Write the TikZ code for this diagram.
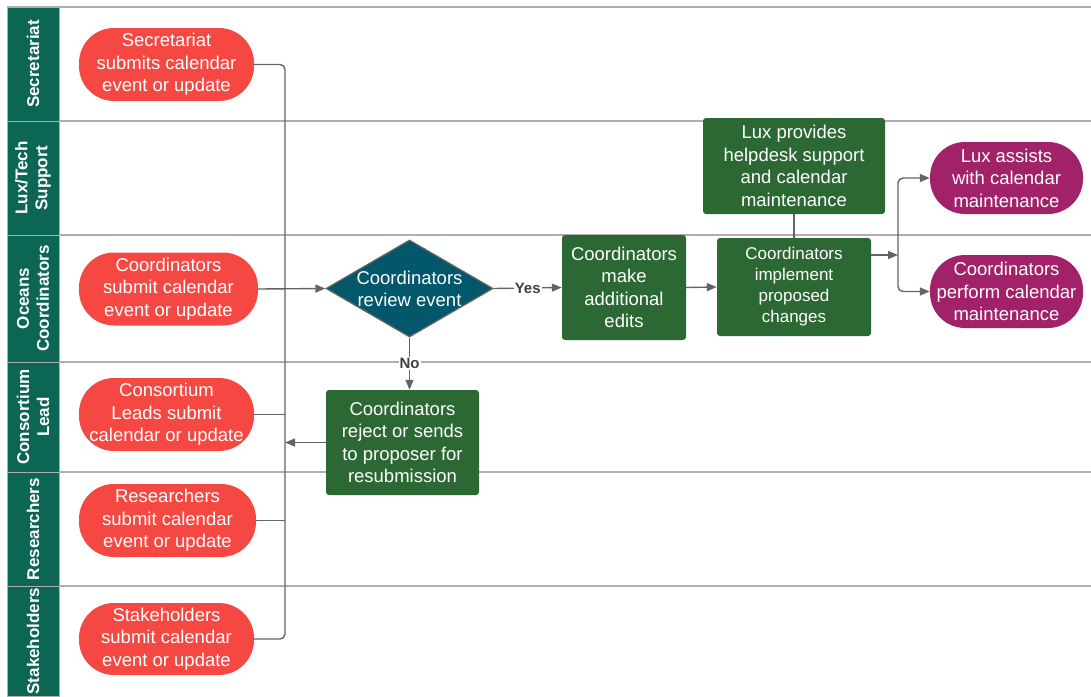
\documentclass[tikz,border=0pt]{standalone}
\usepackage{fontspec}
\setmainfont{Liberation Sans}
\usetikzlibrary{arrows.meta,shapes.geometric,calc}
\definecolor{hdrgreen}{RGB}{11,102,84}
\definecolor{lanegrey}{RGB}{175,175,175}
\definecolor{pillred}{RGB}{246,72,66}
\definecolor{maroon}{RGB}{162,34,106}
\definecolor{boxgreen}{RGB}{44,104,52}
\definecolor{diateal}{RGB}{3,87,107}
\definecolor{conngrey}{RGB}{100,100,100}
\begin{document}
\begin{tikzpicture}[x=1pt,y=-1pt,
  lane/.style={draw=lanegrey, line width=1.2pt},
  hdr/.style={fill=hdrgreen, draw=lanegrey, line width=1pt},
  hdrtxt/.style={text=white, font=\bfseries\fontsize{17}{20}\selectfont, rotate=90, align=center},
  pill/.style={rectangle, rounded corners=35pt, fill=pillred, text=white, align=center, inner sep=0pt, font=\fontsize{18.5}{22.5}\selectfont},
  mpill/.style={pill, fill=maroon},
  gbox/.style={rectangle, rounded corners=3pt, fill=boxgreen, text=white, align=center, inner sep=0pt, font=\fontsize{18.5}{22.5}\selectfont},
  txt/.style={text=white, align=center, inner sep=0pt, font=\fontsize{18.5}{22}\selectfont},
  conn/.style={draw=conngrey, line width=1.4pt},
  arr/.style={conn, -{Triangle[length=10pt,width=8pt]}},
  lbl/.style={fill=white, inner sep=1pt, text=black!75, font=\bfseries\fontsize{15}{16}\selectfont}
]
\useasboundingbox (0,0) rectangle (1091,696);
% lanes
\foreach \y in {7,121,235,362,472,586} \draw[lane] (7,\y) -- (1091,\y);
\draw[hdr] (7,7) rectangle (59,121);
\draw[hdr] (7,121) rectangle (59,235);
\draw[hdr] (7,235) rectangle (59,362);
\draw[hdr] (7,362) rectangle (59,472);
\draw[hdr] (7,472) rectangle (59,586);
\draw[hdr] (7,586) rectangle (59,696);
\node[hdrtxt] (h1) at (33,64) {Secretariat};
\node[hdrtxt] (h2) at (33,178) {Lux/Tech\\Support};
\node[hdrtxt] (h3) at (33,298.5) {Oceans\\Coordinators};
\node[hdrtxt] (h4) at (33,417) {Consortium\\Lead};
\node[hdrtxt] (h5) at (33,529) {Researchers};
\node[hdrtxt] (h6) at (33,641) {Stakeholders};
% nodes
\node[pill, minimum width=175pt, minimum height=73pt] (sec) at (166.5,64.5) {Secretariat\\submits calendar\\event or update};
\node[pill, minimum width=179pt, minimum height=73pt] (csub) at (168.5,289) {Coordinators\\submit calendar\\event or update};
\node[pill, minimum width=175pt, minimum height=73pt] (cons) at (166.5,414.5) {Consortium\\Leads submit\\calendar or update};
\node[pill, minimum width=177pt, minimum height=73pt] (res) at (167.5,520.5) {Researchers\\submit calendar\\event or update};
\node[pill, minimum width=175pt, minimum height=72pt] (stake) at (166.5,639) {Stakeholders\\submit calendar\\event or update};
\node[diamond, fill=diateal, draw=conngrey, line width=1.3pt, minimum width=167pt, minimum height=97pt, inner sep=0pt] (rev) at (409.5,288.5) {};
\node[txt] (revt) at (rev.center) {Coordinators\\review event};
\node[gbox, minimum width=124pt, minimum height=105pt] (edits) at (624,287.5) {Coordinators\\make\\additional\\edits};
\node[gbox, minimum width=153pt, minimum height=105pt] (rej) at (402.5,442.5) {Coordinators\\reject or sends\\to proposer for\\resubmission};
\node[gbox, minimum width=154pt, minimum height=98pt, font=\fontsize{17}{21}\selectfont] (impl) at (794,287) {Coordinators\\implement\\proposed\\changes};
\node[gbox, minimum width=182pt, minimum height=96pt] (luxp) at (794,166) {Lux provides\\helpdesk support\\and calendar\\maintenance};
\node[mpill, minimum width=153pt, minimum height=72pt] (luxa) at (1006.5,178) {Lux assists\\with calendar\\maintenance};
\node[mpill, minimum width=153pt, minimum height=73pt] (perf) at (1006.5,291.5) {Coordinators\\perform calendar\\maintenance};
% connectors
\coordinate (trunk) at (285,0);
\draw[conn, rounded corners=5pt] (sec.east) -- (sec.east -| trunk) -- (stake.east -| trunk) -- (stake.east);
\draw[arr] (csub.east) -- (rev.west);
\draw[conn] (cons.east) -- (cons.east -| trunk);
\draw[conn] (res.east) -- (res.east -| trunk);
\draw[arr] (rej.west) -- (rej.west -| trunk);
\draw[arr] (rev.east) -- node[lbl] (yes) {Yes} (edits.west);
\draw[arr] (rev.south) -- node[lbl] (no) {No} (rev.south |- rej.north);
\draw[arr] (edits.east) -- (impl.west);
\draw[conn] (luxp.south) -- (impl.north);
\coordinate (split) at (898,255);
\draw[arr] (impl.east |- split) -- (split);
\draw[arr, rounded corners=5pt] (split) |- (luxa.west);
\draw[arr, rounded corners=5pt] (split) |- (perf.west);
\end{tikzpicture}
\end{document}
